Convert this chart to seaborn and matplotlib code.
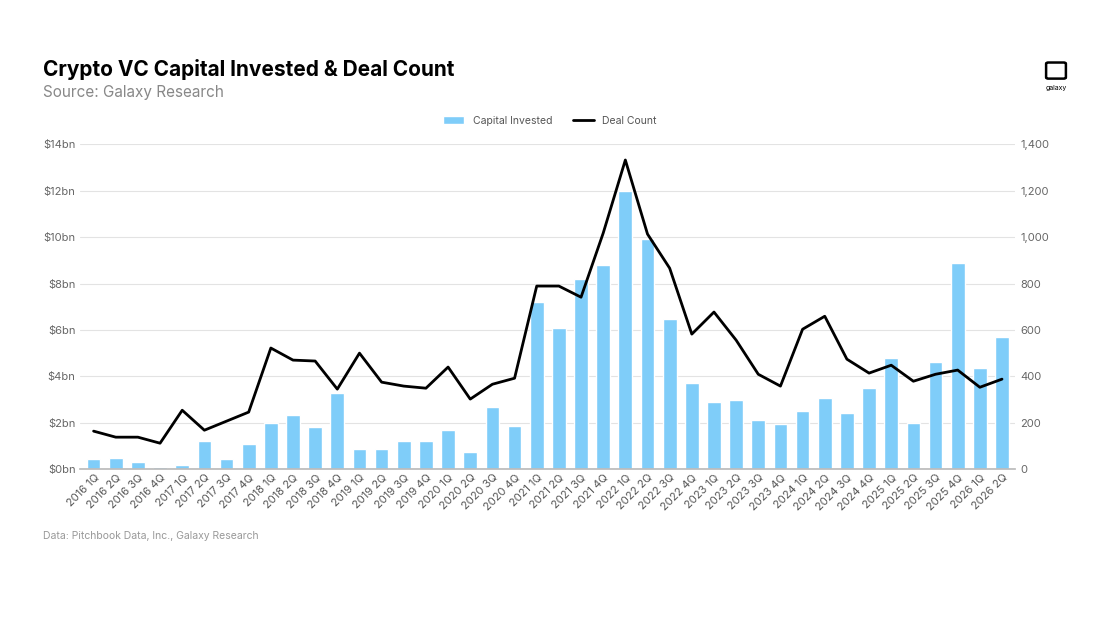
import matplotlib
matplotlib.use("Agg")
import matplotlib.pyplot as plt
import seaborn as sns
import pandas as pd
import numpy as np

years = list(range(2016, 2027))
quarters = [f"{y} {q}Q" for y in years for q in range(1, 5)][:42]
capital = [0.45,0.5,0.3,0.1,0.2,1.2,0.45,1.1,2.0,2.35,1.8,3.3,0.85,0.85,1.2,1.2,1.7,0.75,2.7,1.85,
           7.2,6.1,8.2,8.8,12.0,9.9,6.45,3.7,2.9,3.0,2.1,1.95,2.5,3.05,2.4,3.5,4.8,2.0,4.6,8.9,4.35,5.7]
deals = [164,138,138,112,254,168,207,246,522,470,466,345,500,375,358,349,440,302,366,392,
         789,789,741,1017,1332,1013,866,582,677,556,409,358,603,659,474,414,448,379,409,427,353,388]

df = pd.DataFrame({"q": quarters, "cap": capital, "deals": deals})

sns.set_theme(style="white")
plt.rcParams['font.family'] = ['Inter', 'DejaVu Sans']
fig = plt.figure(figsize=(11, 6.19), dpi=100)
ax = fig.add_axes([0.073, 0.242, 0.85, 0.525])
sns.barplot(data=df, x="q", y="cap", color="#7fcdf9", saturation=1, width=0.62, ax=ax, label="Capital Invested")
ax.set_ylim(0, 14)
ax.set_yticks(range(0, 15, 2))
ax.set_yticklabels([f"${v}bn" for v in range(0, 15, 2)], fontsize=8, color="#666666")
ax.set_xlim(-0.6, len(quarters) - 0.4)
ax.set_xlabel(""); ax.set_ylabel("")
ax.tick_params(axis="x", labelrotation=45, labelsize=8, colors="#555555", length=0, pad=2)
for lab in ax.get_xticklabels():
    lab.set_ha("right"); lab.set_rotation_mode("anchor")
ax.grid(axis="y", color="#e3e3e3", linewidth=0.8)
ax.set_axisbelow(True)
for s in ["top", "right", "left"]:
    ax.spines[s].set_visible(False)
ax.spines["bottom"].set_color("#bbbbbb")
ax.tick_params(axis="y", length=0)

ax2 = ax.twinx()
sns.lineplot(x=np.arange(len(quarters)), y=df["deals"], color="black", linewidth=2, ax=ax2, label="Deal Count", legend=False)
ax2.set_ylim(0, 1400)
ax2.set_yticks(range(0, 1401, 200))
ax2.set_yticklabels([f"{v:,}" for v in range(0, 1401, 200)], fontsize=8, color="#666666")
ax2.set_ylabel("")
ax2.tick_params(axis="y", length=0)
for s in ["top", "right", "left", "bottom"]:
    ax2.spines[s].set_visible(False)

h1, l1 = ax.get_legend_handles_labels()
h2, l2 = ax2.get_legend_handles_labels()
if ax.get_legend(): ax.get_legend().remove()
fig.legend(h1 + h2, l1 + l2, loc="center", bbox_to_anchor=(0.5, 0.805), ncol=2, frameon=False,
           fontsize=7.5, handlelength=2, labelcolor="#555555")

fig.text(0.039, 0.877, "Crypto VC Capital Invested & Deal Count", fontsize=15, fontweight="bold", color="black")
fig.text(0.039, 0.843, "Source: Galaxy Research", fontsize=11, color="#888888")
fig.text(0.039, 0.13, "Data: Pitchbook Data, Inc., Galaxy Research", fontsize=7.5, color="#999999")
fig.text(0.96, 0.855, "galaxy", fontsize=5, ha="center", color="black")
fig.patches.append(matplotlib.patches.FancyBboxPatch((0.953, 0.875), 0.014, 0.022, boxstyle="round,pad=0.002",
                   transform=fig.transFigure, fill=False, edgecolor="black", linewidth=1.8))
fig.savefig("out.png", dpi=100)
